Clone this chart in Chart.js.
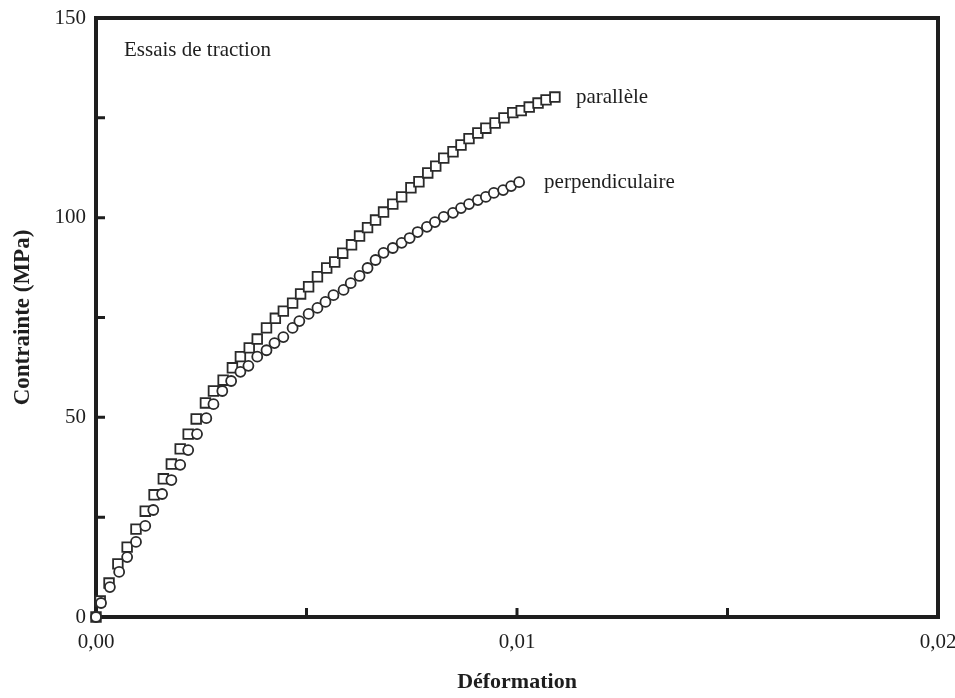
<!DOCTYPE html>
<html>
<head>
<meta charset="utf-8">
<script src="https://cdn.jsdelivr.net/npm/chart.js@4.4.0/dist/chart.umd.min.js"></script>
<style>
  html, body { margin: 0; padding: 0; background: #fff; }
</style>
</head>
<body>
<canvas id="chart" width="955" height="698"></canvas>
<script>
// parallel direction (squares)
const strainPara = [0, 0.00010, 0.00031, 0.00052, 0.00074, 0.00095, 0.00117, 0.00138, 0.00160, 0.00179,
    0.00200, 0.00219, 0.00238, 0.00260, 0.00279, 0.00302, 0.00324, 0.00343, 0.00364, 0.00383,
    0.00405, 0.00426, 0.00445, 0.00467, 0.00486, 0.00505, 0.00526, 0.00548, 0.00567, 0.00586,
    0.00607, 0.00626, 0.00645, 0.00664, 0.00683, 0.00705, 0.00726, 0.00748, 0.00767, 0.00788,
    0.00807, 0.00826, 0.00848, 0.00867, 0.00886, 0.00907, 0.00926, 0.00948, 0.00969, 0.00990,
    0.01010, 0.01029, 0.01050, 0.01069, 0.01090];
const stressPara = [0, 4.0, 8.5, 13.3, 17.5, 22.0, 26.5, 30.6, 34.6, 38.3,
    42.1, 45.8, 49.6, 53.6, 56.6, 59.3, 62.4, 65.2, 67.4, 69.6,
    72.4, 74.8, 76.6, 78.6, 80.9, 82.7, 85.2, 87.4, 88.9, 91.1,
    93.2, 95.4, 97.5, 99.4, 101.4, 103.4, 105.2, 107.5, 109.0, 111.2,
    112.9, 114.9, 116.5, 118.2, 119.8, 121.2, 122.4, 123.7, 125.0, 126.3,
    126.8, 127.7, 128.7, 129.5, 130.2];

// perpendicular direction (circles)
const strainPerp = [0, 0.00012, 0.00033, 0.00055, 0.00074, 0.00095, 0.00117, 0.00136, 0.00157, 0.00179,
    0.00200, 0.00219, 0.00240, 0.00262, 0.00279, 0.00300, 0.00321, 0.00343, 0.00362, 0.00383,
    0.00405, 0.00424, 0.00445, 0.00467, 0.00483, 0.00505, 0.00526, 0.00545, 0.00564, 0.00588,
    0.00605, 0.00626, 0.00645, 0.00664, 0.00683, 0.00705, 0.00726, 0.00745, 0.00764, 0.00786,
    0.00805, 0.00826, 0.00848, 0.00867, 0.00886, 0.00907, 0.00926, 0.00945, 0.00967, 0.00986,
    0.01005];
const stressPerp = [0, 3.5, 7.5, 11.3, 15.0, 18.8, 22.8, 26.8, 30.8, 34.3,
    38.1, 41.8, 45.8, 49.8, 53.3, 56.6, 59.1, 61.4, 62.9, 65.2,
    66.8, 68.6, 70.1, 72.4, 74.1, 75.9, 77.4, 78.9, 80.6, 81.9,
    83.6, 85.4, 87.4, 89.4, 91.2, 92.4, 93.7, 94.9, 96.4, 97.7,
    98.9, 100.2, 101.2, 102.4, 103.4, 104.4, 105.2, 106.2, 106.9, 107.9,
    108.9];

const xTickMarks = [0, 0.005, 0.01, 0.015, 0.02];
const xTickLabels = [0, 0.01, 0.02];
const yTickMarks = [0, 25, 50, 75, 100, 125, 150];
const yTickLabels = [0, 50, 100, 150];
const seriesNames = ['perpendiculaire', 'parallèle'];
const noteText = 'Essais de traction';

const ink = '#1e1e1e';
const serif = "'Liberation Serif', 'DejaVu Serif', serif";

const toPoints = (xs, ys) => xs.map((v, i) => ({ x: v, y: ys[i] }));

// keep the plot box where the scan has it; labels may overhang
const noLabelPadding = scale => {
    scale.paddingLeft = 0;
    scale.paddingRight = 0;
    scale.paddingTop = 0;
    scale.paddingBottom = 0;
};

const framePlugin = {
    id: 'frame',
    beforeDatasetsDraw(chart) {
        const { ctx, chartArea: a, scales: { x, y } } = chart;
        ctx.save();
        ctx.strokeStyle = ink;
        ctx.lineWidth = 4;
        ctx.strokeRect(a.left, a.top, a.right - a.left, a.bottom - a.top);
        // short inward ticks
        ctx.lineWidth = 3;
        ctx.beginPath();
        x.ticks.forEach(t => {
            const px = x.getPixelForValue(t.value);
            if (px > a.left + 3 && px < a.right - 3) {
                ctx.moveTo(px, a.bottom);
                ctx.lineTo(px, a.bottom - 9);
            }
        });
        y.ticks.forEach(t => {
            const py = y.getPixelForValue(t.value);
            if (py > a.top + 3 && py < a.bottom - 3) {
                ctx.moveTo(a.left, py);
                ctx.lineTo(a.left + 9, py);
            }
        });
        ctx.stroke();
        ctx.restore();
    },
    afterDatasetsDraw(chart) {
        const { ctx, chartArea: a } = chart;
        ctx.save();
        ctx.fillStyle = ink;
        ctx.font = '21px ' + serif;
        ctx.textBaseline = 'middle';
        ctx.textAlign = 'left';
        ctx.fillText(noteText, a.left + 28, a.top + 32);
        chart.data.datasets.forEach((ds, i) => {
            const pts = chart.getDatasetMeta(i).data;
            const last = pts[pts.length - 1];
            ctx.fillText(ds.label, last.x + (i === 0 ? 25 : 21), last.y);
        });
        ctx.restore();
    }
};

new Chart(document.getElementById('chart'), {
    type: 'scatter',
    data: {
        datasets: [
            {
                label: seriesNames[0],
                data: toPoints(strainPerp, stressPerp),
                pointStyle: 'circle',
                pointRadius: 5,
                borderWidth: 1.8,
                borderColor: '#2a2a2a',
                backgroundColor: '#ffffff',
                clip: false,
                order: 0
            },
            {
                label: seriesNames[1],
                data: toPoints(strainPara, stressPara),
                pointStyle: 'rect',
                pointRadius: 6.8,
                borderWidth: 1.8,
                borderColor: '#2a2a2a',
                backgroundColor: '#ffffff',
                clip: false,
                order: 1
            }
        ]
    },
    options: {
        responsive: false,
        animation: false,
        devicePixelRatio: 1,
        layout: { padding: { top: 18, right: 17, left: 0, bottom: 0 } },
        plugins: {
            legend: { display: false },
            tooltip: { enabled: false }
        },
        scales: {
            x: {
                type: 'linear',
                min: 0,
                max: 0.02,
                afterFit(scale) { scale.height = 81; noLabelPadding(scale); },
                afterBuildTicks(scale) { scale.ticks = xTickMarks.map(v => ({ value: v })); },
                grid: { display: false, drawTicks: false },
                border: { display: false },
                ticks: {
                    padding: 13,
                    color: ink,
                    font: { family: serif, size: 21 },
                    maxRotation: 0,
                    autoSkip: false,
                    callback: v => xTickLabels.some(t => Math.abs(t - v) < 1e-9) ? v.toFixed(2).replace('.', ',') : ''
                },
                title: {
                    display: true,
                    text: 'Déformation',
                    color: ink,
                    font: { family: serif, size: 22, weight: 'bold' },
                    padding: { top: 0, bottom: 2 }
                }
            },
            y: {
                type: 'linear',
                min: 0,
                max: 150,
                afterFit(scale) { scale.width = 96; noLabelPadding(scale); },
                afterBuildTicks(scale) { scale.ticks = yTickMarks.map(v => ({ value: v })); },
                grid: { display: false, drawTicks: false },
                border: { display: false },
                ticks: {
                    padding: 10,
                    color: ink,
                    font: { family: serif, size: 21 },
                    autoSkip: false,
                    callback: v => yTickLabels.includes(v) ? String(v) : ''
                },
                title: {
                    display: true,
                    text: 'Contrainte (MPa)',
                    color: ink,
                    font: { family: serif, size: 23, weight: 'bold' },
                    padding: { top: 9, bottom: 0 }
                }
            }
        }
    },
    plugins: [framePlugin]
});
</script>
</body>
</html>
